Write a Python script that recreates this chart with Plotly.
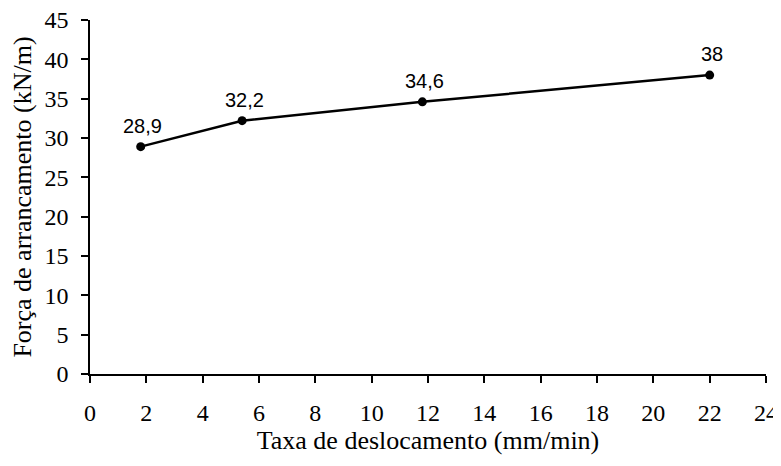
import plotly.graph_objects as go

taxa = [1.8, 5.4, 11.8, 22]
forca = [28.9, 32.2, 34.6, 38]
rotulos = ["28,9", "32,2", "34,6", "38"]

serif = "Liberation Serif"

fig = go.Figure(go.Scatter(
    x=taxa, y=forca, mode="lines+markers",
    line=dict(color="black", width=2.5),
    marker=dict(color="black", size=9),
    cliponaxis=False,
))

for xv, yv, t in zip(taxa, forca, rotulos):
    fig.add_annotation(
        x=xv, y=yv, text=t, showarrow=False,
        yanchor="bottom", xanchor="center", yshift=8, xshift=2,
        font=dict(family="Liberation Sans", size=20, color="black"),
    )

fig.update_layout(
    width=773, height=450,
    margin=dict(l=82, r=15, t=12, b=84),
    plot_bgcolor="white", paper_bgcolor="white",
    showlegend=False,
    font=dict(family=serif, size=24, color="black"),
)
fig.update_xaxes(
    range=[0, 24], dtick=2, tick0=0, automargin=False,
    showline=True, linecolor="black", linewidth=1.5,
    ticks="outside", ticklen=7, tickcolor="black", tickwidth=1.5,
    ticklabelstandoff=9, ticklabeloverflow="allow",
    showgrid=False, zeroline=False,
    title=dict(text="Taxa de deslocamento (mm/min)", standoff=0,
               font=dict(family=serif, size=26)),
    tickfont=dict(family=serif, size=24),
)
fig.update_yaxes(
    range=[0, 45], dtick=5, tick0=0, automargin=False,
    showline=True, linecolor="black", linewidth=1.5,
    ticks="outside", ticklen=7, tickcolor="black", tickwidth=1.5,
    ticklabelstandoff=8, ticklabeloverflow="allow",
    showgrid=False, zeroline=False,
    title=dict(text="Força de arrancamento (kN/m)", standoff=14,
               font=dict(family=serif, size=26)),
    tickfont=dict(family=serif, size=24),
)

fig.write_html("out.html")
